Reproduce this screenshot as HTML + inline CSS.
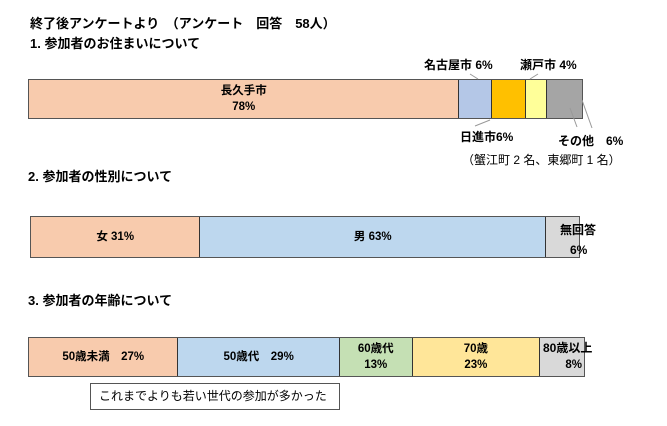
<!DOCTYPE html>
<html><head><meta charset="utf-8"><style>
body{margin:0;width:667px;height:426px;background:#fff;position:relative;overflow:hidden;font-family:"Liberation Sans","Noto Sans CJK JP",sans-serif;font-weight:bold;font-size:12px;color:#000}
.a{position:absolute;white-space:nowrap}
.bar{position:absolute;display:flex;border:1px solid #555;box-sizing:border-box}
.bar div{box-sizing:border-box;border-right:1px solid #333;display:flex;align-items:center;justify-content:center;text-align:center;line-height:16px;font-size:11.5px}
.bar div:last-child{border-right:none}
</style></head><body>
<div class="a" style="left:30px;top:13px;font-size:13px">終了後アンケートより　（アンケート　回答　58人）</div>
<div class="a" style="left:30px;top:33px;font-size:13px">1. 参加者のお住まいについて</div>
<div class="a" style="left:424px;top:56px">名古屋市 6%</div>
<div class="a" style="left:520px;top:56px">瀬戸市 4%</div>
<div class="bar" style="left:28px;top:79px;width:555px;height:40px">
<div style="width:432px;background:#f8cbad">長久手市<br>78%</div>
<div style="width:33px;background:#b4c7e7"></div>
<div style="width:34px;background:#ffc000"></div>
<div style="width:21px;background:#ffff99"></div>
<div style="width:35px;background:#a5a5a5"></div>
</div>
<svg class="a" style="left:0;top:0" width="667" height="426"><g stroke="#999" stroke-width="1"><line x1="470" y1="74" x2="478" y2="79"/><line x1="538" y1="74" x2="530" y2="79"/><line x1="490" y1="120" x2="475" y2="126"/><line x1="570" y1="108" x2="577" y2="127"/><line x1="582" y1="100" x2="592" y2="128"/></g></svg>
<div class="a" style="left:460px;top:128px">日進市6%</div>
<div class="a" style="left:558px;top:132px">その他　6%</div>
<div class="a" style="left:462px;top:151px;font-weight:normal">（蟹江町 2 名、東郷町 1 名）</div>
<div class="a" style="left:28px;top:166px;font-size:13px">2. 参加者の性別について</div>
<div class="bar" style="left:30px;top:216px;width:550px;height:42px">
<div style="width:170px;background:#f8cbad">女 31%</div>
<div style="width:347px;background:#bdd7ee">男 63%</div>
<div style="width:33px;background:#d9d9d9"></div>
</div>
<div class="a" style="left:560px;top:221px">無回答</div>
<div class="a" style="left:570px;top:243px">6%</div>
<div class="a" style="left:28px;top:290px;font-size:13px">3. 参加者の年齢について</div>
<div class="bar" style="left:28px;top:337px;width:557px;height:40px">
<div style="width:150px;background:#f8cbad">50歳未満　27%</div>
<div style="width:162px;background:#bdd7ee">50歳代　29%</div>
<div style="width:73px;background:#c5e0b4">60歳代<br>13%</div>
<div style="width:128px;background:#ffe699">70歳<br>23%</div>
<div style="width:44px;background:#d9d9d9;justify-content:flex-end;align-items:flex-end;padding:0 2px 3px 0">8%</div>
</div>
<div class="a" style="left:543px;top:339px">80歳以上</div>
<div class="a" style="left:90px;top:383px;width:250px;height:27px;border:1px solid #555;box-sizing:border-box;font-weight:normal;font-size:12px;line-height:25px;padding-left:8px">これまでよりも若い世代の参加が多かった</div>
</body></html>
